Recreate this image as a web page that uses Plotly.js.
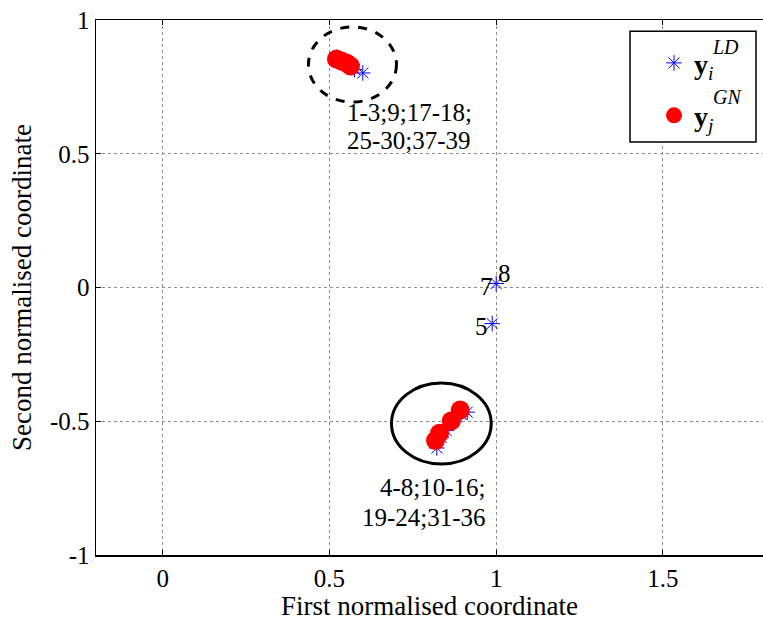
<!DOCTYPE html>
<html>
<head>
<meta charset="utf-8">
<script src="https://cdn.plot.ly/plotly-3.0.1.min.js"></script>
<style>html,body{margin:0;padding:0;background:#fff;}#chart{width:763px;height:621px;}</style>
</head>
<body>
<div id="chart"></div>
<script>
// ---- data ----
var ldX = [0.600, 0.575, 0.913, 0.895, 0.870, 0.850, 0.835, 0.822, 1.000, 0.988];
var ldY = [0.802, 0.815, -0.466, -0.475, -0.505, -0.535, -0.560, -0.600, 0.015, -0.135];
var gnX = [0.521, 0.536, 0.551, 0.563, 0.892, 0.865, 0.830, 0.818];
var gnY = [0.854, 0.847, 0.839, 0.828, -0.458, -0.499, -0.545, -0.572];
var xTicks = [0, 0.5, 1, 1.5];
var xTickText = ['0', '0.5', '1', '1.5'];
var yTicks = [-1, -0.5, 0, 0.5, 1];
var yTickText = ['-1', '-0.5', '0', '0.5', '1'];
var topClusterLines = ['1-3;9;17-18;', '25-30;37-39'];
var topClusterLineY = [0.656, 0.548];
var botClusterLines = ['4-8;10-16;', '19-24;31-36'];
var botClusterLineY = [-0.746, -0.858];
var pointLabels = ['7', '8', '5'];
var pointLabelX = [1.000, 1.000, 0.988];
var pointLabelY = [0.015, 0.015, -0.135];
// ellipses around clusters: [x0, x1, y0, y1]
var topEllipse = [0.437, 0.701, 0.693, 0.974];
var botEllipse = [0.686, 0.985, -0.660, -0.357];

var FONT = "'Liberation Serif'";

var traces = [
  {
    x: ldX, y: ldY, type: 'scatter', mode: 'markers',
    name: '<b>y</b><sub><i>i</i></sub>', legendgroup: 'a',
    marker: {symbol: 'asterisk-open', size: 13, color: '#0000ff', line: {color: '#0000ff', width: 1}}
  },
  {
    x: gnX, y: gnY, type: 'scatter', mode: 'markers',
    name: '<b>y</b><sub><i>j</i></sub>', legendgroup: 'b',
    marker: {symbol: 'circle', size: 19, color: '#ff0000', line: {width: 0}}
  }
];

var annotations = [];
topClusterLines.forEach(function (t, i) {
  annotations.push({x: 0.548, y: topClusterLineY[i], xref: 'x', yref: 'y', xanchor: 'left', yanchor: 'middle',
    text: t, showarrow: false, font: {family: FONT, size: 25, color: '#000'}});
});
botClusterLines.forEach(function (t, i) {
  annotations.push({x: 0.976, y: botClusterLineY[i], xref: 'x', yref: 'y', xanchor: 'right', yanchor: 'middle',
    text: t, showarrow: false, font: {family: FONT, size: 25, color: '#000'}});
});
annotations.push(
  {x: pointLabelX[0], y: pointLabelY[0], xref: 'x', yref: 'y', xanchor: 'right', yanchor: 'middle', xshift: -1, yshift: -3,
   text: pointLabels[0], showarrow: false, font: {family: FONT, size: 25, color: '#000'}},
  {x: pointLabelX[1], y: pointLabelY[1], xref: 'x', yref: 'y', xanchor: 'left', yanchor: 'middle', xshift: 0, yshift: 10,
   text: pointLabels[1], showarrow: false, font: {family: FONT, size: 25, color: '#000'}},
  {x: pointLabelX[2], y: pointLabelY[2], xref: 'x', yref: 'y', xanchor: 'right', yanchor: 'middle', xshift: -2, yshift: -3,
   text: pointLabels[2], showarrow: false, font: {family: FONT, size: 25, color: '#000'}},
  {x: 0.944, y: 0.950, xref: 'paper', yref: 'paper', xanchor: 'center', yanchor: 'middle',
   text: '<i>LD</i>', showarrow: false, font: {family: FONT, size: 20, color: '#000'}},
  {x: 0.947, y: 0.856, xref: 'paper', yref: 'paper', xanchor: 'center', yanchor: 'middle',
   text: '<i>GN</i>', showarrow: false, font: {family: FONT, size: 20, color: '#000'}}
);

var shapes = [
  {type: 'circle', xref: 'x', yref: 'y', x0: topEllipse[0], x1: topEllipse[1], y0: topEllipse[2], y1: topEllipse[3],
   line: {color: '#000', width: 3, dash: 'dash'}},
  {type: 'circle', xref: 'x', yref: 'y', x0: botEllipse[0], x1: botEllipse[1], y0: botEllipse[2], y1: botEllipse[3],
   line: {color: '#000', width: 3}},
  {type: 'rect', xref: 'paper', yref: 'paper', x0: 0.8006, x1: 0.9895, y0: 0.772, y1: 0.979,
   line: {color: '#000', width: 1.5}, fillcolor: '#fff', layer: 'above'}
];

var layout = {
  width: 763, height: 621,
  margin: {l: 96, r: 0, t: 20, b: 66, pad: 0},
  paper_bgcolor: '#fff', plot_bgcolor: '#fff',
  font: {family: FONT, color: '#000'},
  showlegend: true,
  legend: {x: 0.8366, y: 0.966, xanchor: 'left', yanchor: 'top', bgcolor: 'rgba(0,0,0,0)', borderwidth: 0,
           font: {family: FONT, size: 28, color: '#000'}, traceorder: 'grouped', tracegroupgap: 13},
  xaxis: {
    range: [-0.2, 1.8], tickvals: xTicks, ticktext: xTickText,
    showgrid: true, gridcolor: '#8c8c8c', griddash: 'dot', gridwidth: 1, zeroline: false,
    showline: true, linecolor: '#000', linewidth: 1.5, mirror: 'ticks',
    ticks: 'inside', ticklen: 5, tickcolor: '#000', tickwidth: 1,
    tickfont: {family: FONT, size: 25, color: '#000'},
    title: {text: 'First normalised coordinate', font: {family: FONT, size: 27, color: '#000'}, standoff: 2}
  },
  yaxis: {
    range: [-1, 1], tickvals: yTicks, ticktext: yTickText,
    showgrid: true, gridcolor: '#8c8c8c', griddash: 'dot', gridwidth: 1, zeroline: false,
    showline: true, linecolor: '#000', linewidth: 1.5, mirror: false,
    ticks: 'inside', ticklen: 5, tickcolor: '#000', tickwidth: 1,
    tickfont: {family: FONT, size: 25, color: '#000'},
    title: {text: 'Second normalised coordinate', font: {family: FONT, size: 27, color: '#000'}, standoff: 10}
  },
  annotations: annotations,
  shapes: shapes
};

Plotly.newPlot('chart', traces, layout, {staticPlot: true, displayModeBar: false});
</script>
</body>
</html>
